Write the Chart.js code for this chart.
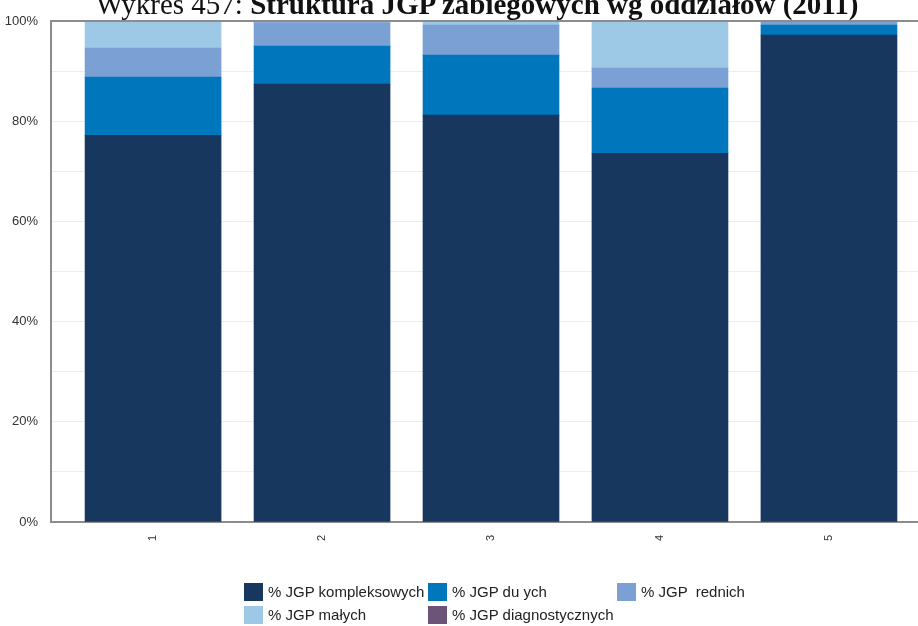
<!DOCTYPE html>
<html lang="pl">
<head>
    <meta charset="UTF-8">
    <title>Struktura JGP zabiegowych wg oddziałów (2011)</title>
    <script src="https://cdn.jsdelivr.net/npm/chart.js"></script>
    <style>
        body { margin: 0; background: #fff; overflow: hidden; }
        #wrap { position: relative; width: 918px; height: 626px; overflow: hidden; }
        #title {
            position: absolute; left: 18px; width: 918px; top: -12px;
            text-align: center; font-family: "Liberation Serif", serif;
            font-size: 29px; font-weight: normal; color: #111; white-space: nowrap; margin: 0;
        }
        #title b { font-weight: bold; }
        canvas { position: absolute; left: 0; top: 0; }
        .leg { position: absolute; font: 15px "Liberation Sans", Arial, sans-serif; color: #222; white-space: pre; }
        .leg span { position: absolute; left: 0; top: 0; width: 19px; height: 18px; }
        .leg div { position: absolute; left: 24px; top: 0; line-height: 18px; }
    </style>
</head>
<body>
<div id="wrap">
    <canvas id="chart" width="918" height="626"></canvas>
    <h1 id="title">Wykres 457: <b>Struktura JGP zabiegowych wg oddziałów (2011)</b></h1>
    <div id="legend"></div>
</div>
<script>
    // dane (udział w %)
    var categories = ['1', '2', '3', '4', '5'];
    var kompleksowych = [77.2, 87.4, 81.2, 73.6, 97.2];
    var duzych = [11.6, 7.6, 12.0, 13.0, 2.0];
    var srednich = [5.8, 4.7, 6.0, 4.0, 0.6];
    var malych = [5.4, 0.3, 0.8, 9.4, 0.2];
    var diagnostycznych = [0, 0, 0, 0, 0];
    var yTicks = [0, 20, 40, 60, 80, 100];

    var seriesNames = ['% JGP kompleksowych', '% JGP du ych', '% JGP  rednich', '% JGP małych', '% JGP diagnostycznych'];
    var seriesData = [kompleksowych, duzych, srednich, malych, diagnostycznych];
    var colors = ['#17375E', '#0077BD', '#7BA0D3', '#9DC8E6', '#6B5478'];

    var datasets = seriesData.map(function (vals, k) {
        return {
            label: seriesNames[k],
            data: vals.map(function (v, i) { return { x: i + 1, y: v }; }),
            backgroundColor: colors[k],
            borderWidth: 0,
            barThickness: 136
        };
    });

    var chart = new Chart(document.getElementById('chart'), {
        type: 'bar',
        data: { datasets: datasets },
        options: {
            responsive: false,
            animation: false,
            layout: { padding: { top: 21, right: 0, left: 0, bottom: 0 } },
            plugins: { legend: { display: false }, tooltip: { enabled: false } },
            scales: {
                x: {
                    type: 'linear', stacked: true, offset: false, bounds: 'data',
                    min: 0.396, max: 5.527,
                    afterBuildTicks: function (s) {
                        s.ticks = categories.map(function (c, i) { return { value: i + 1 }; });
                    },
                    grid: { display: false, drawTicks: false },
                    border: { color: '#8c8c8c', width: 2 },
                    ticks: {
                        minRotation: 90, maxRotation: 90, padding: 13,
                        color: '#333', font: { family: 'Liberation Sans', size: 11 },
                        callback: function (v) { return categories[v - 1]; }
                    },
                    afterFit: function (s) { s.height = 104; }
                },
                y: {
                    stacked: true, min: 0, max: 100,
                    grid: { color: '#ededed', drawTicks: false },
                    border: { color: '#8c8c8c', width: 2 },
                    afterBuildTicks: function (s) {
                        var t = [];
                        for (var v = 0; v <= 100; v += 10) t.push({ value: v });
                        s.ticks = t;
                    },
                    ticks: {
                        padding: 13, color: '#333',
                        font: { family: 'Liberation Sans', size: 13 },
                        callback: function (v) { return yTicks.indexOf(v) >= 0 ? v + '%' : ''; }
                    },
                    afterFit: function (s) { s.width = 51; }
                }
            }
        },
        plugins: [{
            id: 'topFrame',
            afterDraw: function (c) {
                var a = c.chartArea, ctx = c.ctx;
                ctx.save();
                ctx.strokeStyle = '#8c8c8c';
                ctx.lineWidth = 2;
                ctx.beginPath();
                ctx.moveTo(a.left, a.top);
                ctx.lineTo(a.right, a.top);
                ctx.stroke();
                ctx.restore();
            }
        }]
    });

    // legenda w układzie siatki
    var legPos = [[244, 583], [428, 583], [617, 583], [244, 606], [428, 606]];
    var legend = document.getElementById('legend');
    chart.data.datasets.forEach(function (ds, k) {
        var el = document.createElement('div');
        el.className = 'leg';
        el.style.left = legPos[k][0] + 'px';
        el.style.top = legPos[k][1] + 'px';
        el.innerHTML = '<span style="background:' + ds.backgroundColor + '"></span><div></div>';
        el.lastChild.textContent = ds.label;
        legend.appendChild(el);
    });
</script>
</body>
</html>
